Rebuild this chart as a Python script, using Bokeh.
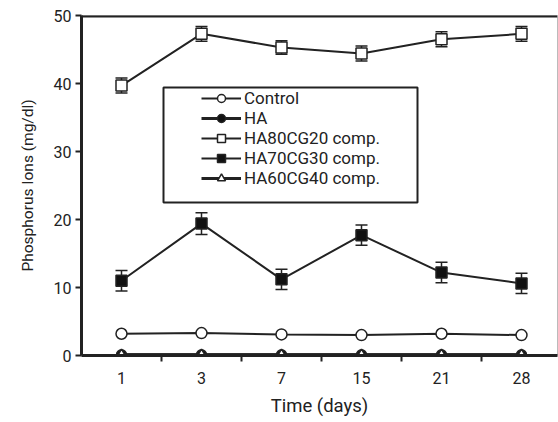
from bokeh.plotting import figure
from bokeh.models import (Range1d, FixedTicker, Whisker, TeeHead, ColumnDataSource,
                          Legend, LegendItem, Span, BoxAnnotation)
from bokeh.embed import file_html
from bokeh.resources import INLINE

days = ["1", "3", "7", "15", "21", "28"]
control = [3.2, 3.3, 3.1, 3.0, 3.2, 3.0]
ha = [0.1, 0.1, 0.1, 0.1, 0.1, 0.1]
ha80 = [39.7, 47.3, 45.3, 44.4, 46.5, 47.3]
ha80_err = [1.1, 1.1, 1.0, 1.1, 1.1, 1.1]
ha70 = [11.0, 19.4, 11.2, 17.7, 12.2, 10.6]
ha70_err = [1.5, 1.6, 1.5, 1.5, 1.5, 1.5]
ha60 = [0.1, 0.1, 0.1, 0.1, 0.1, 0.1]
y_ticks = [0, 10, 20, 30, 40, 50]

xpos = [i + 0.5 for i in range(len(days))]
FONT = "Roboto"
INK = "#222222"

p = figure(width=558, height=422, output_backend="svg", toolbar_location=None,
           x_range=Range1d(0, 5.95), y_range=Range1d(0, 50),
           min_border_left=81, min_border_right=1, min_border_top=15, min_border_bottom=67)
p.background_fill_color = "white"
p.border_fill_color = "white"
p.outline_line_color = "#bbbbbb"
p.outline_line_width = 1
p.xgrid.visible = False
p.ygrid.visible = False

# axes
xa = p.xaxis[0]
xa.ticker = FixedTicker(ticks=xpos, minor_ticks=list(range(1, len(days))))
xa.major_label_overrides = {x: d for x, d in zip(xpos, days)}
xa.major_tick_line_color = None
xa.minor_tick_line_color = INK
xa.minor_tick_line_width = 2
xa.minor_tick_out = 6
xa.minor_tick_in = 0
xa.axis_line_width = 3
xa.axis_line_color = INK
xa.major_label_text_font = FONT
xa.major_label_text_font_size = "16px"
xa.major_label_text_color = INK
xa.major_label_standoff = 10
xa.axis_label = "Time (days)"
xa.axis_label_text_font = FONT
xa.axis_label_text_font_size = "18.5px"
xa.axis_label_text_font_style = "normal"
xa.axis_label_text_color = INK
xa.axis_label_standoff = 8

ya = p.yaxis[0]
ya.ticker = FixedTicker(ticks=y_ticks, minor_ticks=[])
ya.major_tick_out = 6
ya.major_tick_in = 0
ya.major_tick_line_width = 2
ya.major_tick_line_color = INK
ya.axis_line_width = 3
ya.axis_line_color = INK
ya.major_label_text_font = FONT
ya.major_label_text_font_size = "16px"
ya.major_label_text_color = INK
ya.major_label_standoff = 4
ya.axis_label = "Phosphorus Ions (mg/dl)"
ya.axis_label_text_font = FONT
ya.axis_label_text_font_size = "15.5px"
ya.axis_label_text_font_style = "normal"
ya.axis_label_text_color = INK
ya.axis_label_standoff = 14

p.add_layout(Span(location=50, dimension="width", line_color=INK, line_width=4))

# error bars
for vals, errs in [(ha80, ha80_err), (ha70, ha70_err)]:
    src = ColumnDataSource(dict(x=xpos,
                                lo=[v - e for v, e in zip(vals, errs)],
                                hi=[v + e for v, e in zip(vals, errs)]))
    w = Whisker(base="x", lower="lo", upper="hi", source=src,
                line_color=INK, line_width=1.5,
                upper_head=TeeHead(size=12, line_color=INK, line_width=1.5),
                lower_head=TeeHead(size=12, line_color=INK, line_width=1.5))
    p.add_layout(w)

series = [
    ("Control", control, "circle", "white", 11, 2),
    ("HA", ha, "circle", "#111111", 10, 3),
    ("HA80CG20 comp.", ha80, "square", "white", 11, 2),
    ("HA70CG30 comp.", ha70, "square", "#111111", 11, 2),
    ("HA60CG40 comp.", ha60, "triangle", "white", 10, 3),
]

items = []
for name, vals, marker, fill, size, lw in series:
    l = p.line(xpos, vals, line_color=INK, line_width=lw)
    s = p.scatter(xpos, vals, marker=marker, size=size, fill_color=fill,
                  line_color=INK, line_width=1.5)
    items.append(LegendItem(label=name, renderers=[l, s]))

p.add_layout(BoxAnnotation(left=(163 - 81) / 80, right=(417 - 81) / 80,
                           top=(355 - 87) / 6.8, bottom=(355 - 202) / 6.8,
                           fill_color=None, line_color=INK, line_width=2, line_alpha=1))

legend = Legend(items=items, location=(120, 167), padding=0, spacing=0,
                glyph_width=40, glyph_height=20, label_height=20, label_standoff=3,
                label_text_font=FONT, label_text_font_size="17px", label_text_color=INK,
                border_line_color=None, background_fill_alpha=0, margin=0)
p.add_layout(legend)

open("out.html", "w").write(file_html(p, INLINE))
